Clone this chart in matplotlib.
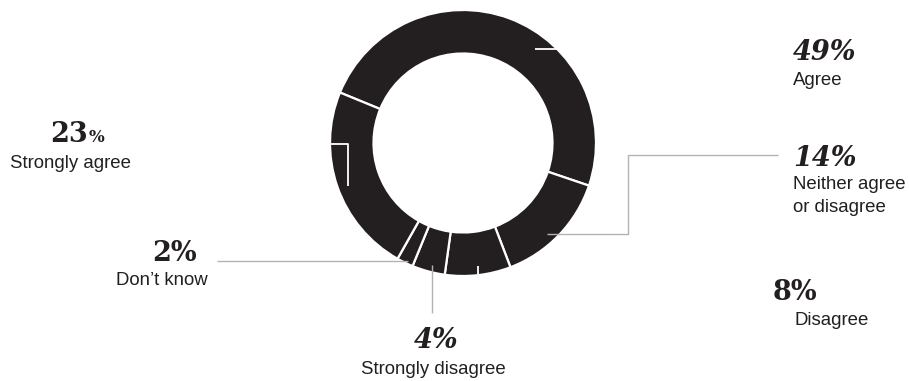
import matplotlib
matplotlib.use("Agg")
import matplotlib.pyplot as plt

# survey answers, clockwise from the top-left of the ring
labels = ["Agree", "Neither agree\nor disagree", "Disagree", "Strongly disagree", "Don\u2019t know", "Strongly agree"]
shares = [49, 14, 8, 4, 2, 23]

W, H = 909, 381
RING = "#231f20"
LEAD = "#b3b3b3"
INK = "#231f20"


def py(y):
    # work in pixel rows measured from the top
    return H - y


fig = plt.figure(figsize=(W / 100, H / 100), dpi=100)
ax = fig.add_axes([0, 0, 1, 1])

ax.pie(shares, startangle=157.7, counterclock=False, radius=133, center=(463, py(143)),
       colors=[RING] * len(shares),
       wedgeprops=dict(width=43.5, edgecolor="white", linewidth=1.6))

ax.set_xlim(0, W)
ax.set_ylim(0, H)
ax.set_aspect("equal")
ax.axis("off")


def lead(xs, ys, color=LEAD, lw=1.0):
    ax.plot(xs, [py(v) for v in ys], color=color, lw=lw, solid_capstyle="butt", zorder=3)


# leader lines
lead([535, 557], [49, 49], color="white", lw=1.3)
lead([331, 348, 348], [144, 144, 186], color="white", lw=1.3)
lead([478, 478], [266, 274], color="white", lw=1.3)
lead([547, 628, 628, 778], [234, 234, 155, 155])
lead([217, 408], [261, 261])
lead([432, 432], [265, 313])

serif = "DejaVu Serif"
sans = "Liberation Sans"
big = 19.5
small = 13.4


def pct(x, y, s, ha="left", italic=True, size=big):
    ax.text(x, py(y), s, ha=ha, va="baseline", family=serif, weight="bold",
            style="italic" if italic else "normal", size=size, color=INK)


def cap(x, y, s, ha="left"):
    ax.text(x, py(y), s, ha=ha, va="baseline", family=sans, size=small, color=INK)


pct(793, 60.5, f"{shares[0]}%")
cap(793, 85, labels[0])

pct(793, 166.5, f"{shares[1]}%")
line1, line2 = labels[1].split("\n")
cap(793, 189, line1)
cap(793, 212, line2)

pct(773, 300, f"{shares[2]}%", italic=False)
cap(794, 325, labels[2])

pct(436, 348, f"{shares[3]}%", ha="center")
cap(433.5, 374, labels[3], ha="center")

pct(174, 260.7, f"{shares[4]}%", ha="center", italic=False)
cap(208, 285, labels[4], ha="right")

pct(88, 141.7, f"{shares[5]}", ha="right", italic=False)
pct(88.5, 141.7, "%", italic=False, size=12)
cap(71, 168, labels[5], ha="center")

fig.savefig("out.png", dpi=100)
